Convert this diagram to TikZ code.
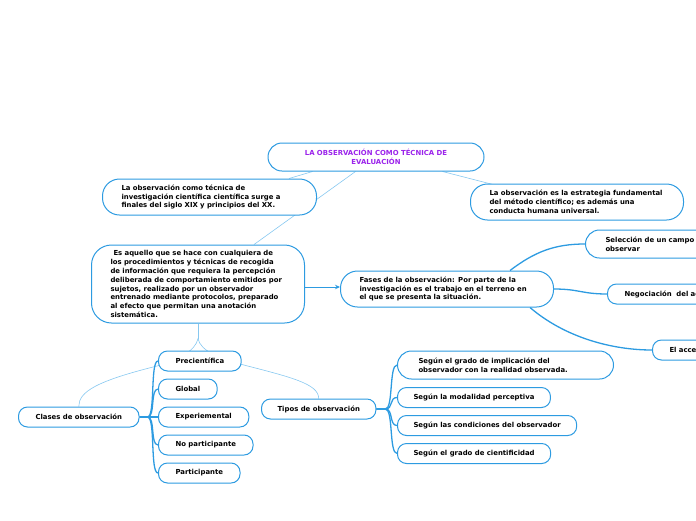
\documentclass[tikz,border=0pt]{standalone}
\usepackage{fontspec}
\setmainfont{DejaVu Sans}
\usetikzlibrary{arrows.meta,calc}
\definecolor{bl}{RGB}{45,155,225}
\definecolor{lbl}{RGB}{135,200,240}
\definecolor{purp}{RGB}{155,35,235}
\pgfdeclarelayer{bg}
\pgfsetlayers{bg,main}
\tikzset{
  box/.style={draw=bl, line width=1pt, fill=white, font=\fontsize{6.9}{8.9}\selectfont\bfseries, align=left, inner ysep=0pt},
  bigbox/.style={box, anchor=west, rounded corners=17pt, text width=175pt, inner xsep=19pt, minimum height=36pt},
  sbox/.style={box, anchor=west, inner xsep=17pt, minimum height=20pt, rounded corners=9pt},
  light/.style={draw=lbl, line width=0.6pt},
  branch/.style={draw=bl, line width=1.3pt},
}
\begin{document}
\begin{tikzpicture}[x=1pt,y=1pt]
\useasboundingbox (0,0) rectangle (696,-520);
\clip (0,0) rectangle (696,-520);
% nodes
\node[box, rounded corners=14pt, minimum width=216pt, minimum height=28pt, align=center, text=purp] (title) at (376,-157) {LA OBSERVACIÓN COMO TÉCNICA DE\\EVALUACIÓN};
\node[bigbox, text width=176pt] (b1) at (102,-197) {La observación como técnica de\\investigación científica científica surge a\\finales del siglo XIX y principios del XX.};
\node[bigbox] (rb) at (470,-202) {La observación es la estrategia fundamental\\del método científico; es además una\\conducta humana universal.};
\node[bigbox, rounded corners=20pt, minimum height=78pt] (main) at (91,-284) {\hspace*{3pt}Es aquello que se hace con cualquiera de\\los procedimientos y técnicas de recogida\\de información que requiera la percepción\\deliberada de comportamiento emitidos por\\sujetos, realizado por un observador\\entrenado mediante protocolos, preparado\\al efecto que permitan una anotación\\sistemática.};
\node[bigbox] (fases) at (340,-289) {Fases de la observación: Por parte de la\\investigación es el trabajo en el terreno en\\el que se presenta la situación.};
\node[box, anchor=west, rounded corners=14pt, text width=140pt, inner xsep=20pt, minimum height=28pt] (sel) at (585,-244) {Selección de un campo\\observar};
\node[sbox, text width=120pt] (neg) at (607,-294) {Negociación\ \ del acceso};
\node[sbox, text width=80pt] (acc) at (652,-350) {El acceso};
\node[sbox] (clases) at (18,-417) {Clases de observación};
\node[sbox] (pre) at (158,-361) {Precientífica};
\node[sbox] (glo) at (158,-389) {Global};
\node[sbox] (exp) at (158,-417) {Experiemental};
\node[sbox] (nop) at (158,-445) {No participante};
\node[sbox] (par) at (158,-473) {Participante};
\node[sbox, inner xsep=16pt] (tipos) at (261,-409) {Tipos de observación};
\node[box, anchor=west, rounded corners=14pt, text width=174pt, inner xsep=21pt, minimum height=28pt] (s1) at (397,-365) {Según el grado de implicación del\\observador con la realidad observada.};
\node[sbox, inner xsep=16pt] (s2) at (397,-397.5) {Según la modalidad perceptiva};
\node[sbox, inner xsep=16pt] (s3) at (397,-425.5) {Según las condiciones del observador};
\node[sbox, inner xsep=16pt] (s4) at (397,-453.5) {Según el grado de cientificidad};
% connectors
\begin{pgfonlayer}{bg}
\draw[light] ([xshift=45pt]title.south west) -- ([xshift=187pt]b1.north west);
\draw[light] ([xshift=175pt]title.south west) -- ([xshift=23pt,yshift=-1pt]rb.north west);
\draw[light] ([xshift=88pt]title.south west) -- ([xshift=163pt]main.north west);
\draw[light] (main.south) -- ++(0,-15) coordinate (split);
\coordinate (pl) at (157,-366);
\coordinate (pr) at (240,-364);
\draw[light] (split) .. controls +(-2,-12) and +(20,5) .. (pl) .. controls +(-60,-15) and +(0,15) .. (clases.north);
\draw[light] (split) .. controls +(2,-12) and +(-20,5) .. (pr) .. controls +(50,-13) and +(0,15) .. (tipos.north);
\foreach \n in {pre,glo,exp,nop,par}
  \draw[branch] (clases.east) -- ++(8,0) .. controls +(8,0) and +(-8,0) .. (\n.west);
\foreach \n in {s1,s2,s3,s4}
  \draw[branch] (tipos.east) -- ++(9,0) .. controls +(8,0) and +(-8,0) .. (\n.west);
\draw[branch] ([xshift=170pt]fases.north west) .. controls +(25,19) and +(-30,0) .. (sel.west);
\draw[branch] (fases.east) .. controls +(25,0) and +(-25,0) .. (neg.west);
\draw[branch] ([xshift=190pt]fases.south west) .. controls +(35,-30) and +(-40,0) .. (acc.west);
\end{pgfonlayer}
\draw[draw=bl, line width=1pt, -{Stealth[length=5pt,width=4.5pt]}] ([yshift=-3pt]main.east) -- ([yshift=2pt]fases.west);
\end{tikzpicture}
\end{document}
